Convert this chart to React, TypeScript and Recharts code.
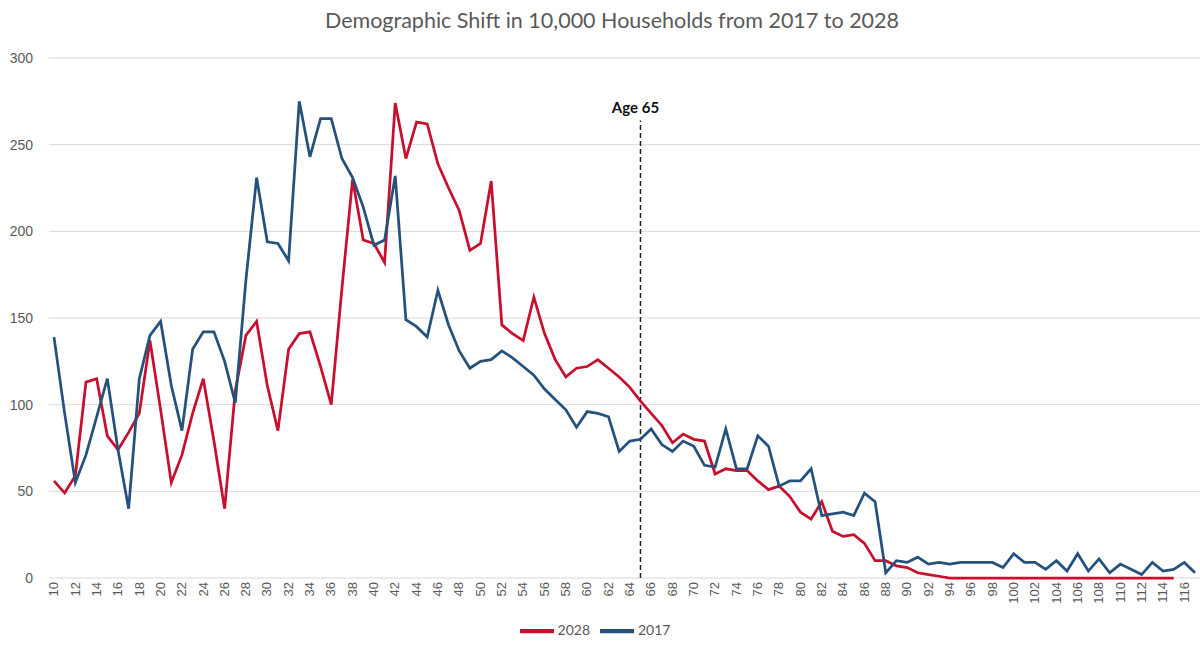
import React from 'react';
import { LineChart, Line, XAxis, YAxis, CartesianGrid, Legend, ReferenceLine } from 'recharts';

const ages: number[] = Array.from({ length: 108 }, (_, i) => 10 + i);

const values2017: number[] = [
  139, 95, 55, 71, 93, 115, 74, 40, 115, 140, 148, 111, 85, 132, 142, 142, 125, 101, 172, 231,
  194, 193, 183, 275, 243, 265, 265, 242, 231, 214, 192, 195, 232, 149, 145, 139, 166, 146, 131, 121,
  125, 126, 131, 127, 122, 117, 109, 103, 97, 87, 96, 95, 93, 73, 79, 80, 86, 77, 73, 79,
  76, 65, 64, 86, 63, 63, 82, 76, 53, 56, 56, 63, 36, 37, 38, 36, 49, 44, 3, 10,
  9, 12, 8, 9, 8, 9, 9, 9, 9, 6, 14, 9, 9, 5, 10, 4, 14, 4, 11, 3,
  8, 5, 2, 9, 4, 5, 9, 3,
];

const values2028: (number | null)[] = [
  56, 49, 59, 113, 115, 82, 74, 84, 95, 137, 97, 55, 71, 95, 115, 79, 40, 108, 140, 148,
  111, 85, 132, 141, 142, 122, 100, 167, 230, 195, 193, 182, 274, 242, 263, 262, 239, 225, 212, 189,
  193, 229, 146, 141, 137, 162, 141, 126, 116, 121, 122, 126, 121, 116, 110, 102, 95, 88, 78, 83,
  80, 79, 60, 63, 62, 62, 56, 51, 53, 47, 38, 34, 44, 27, 24, 25, 20, 10, 10, 7,
  6, 3, 2, 1, 0, 0, 0, 0, 0, 0, 0, 0, 0, 0, 0, 0, 0, 0, 0, 0,
  0, 0, 0, 0, 0, 0, null, null,
];

const yTicks: number[] = [0, 50, 100, 150, 200, 250, 300];
const seriesOrder: string[] = ['2028', '2017'];

const data = ages.map((age, i) => ({ age, v2028: values2028[i], v2017: values2017[i] }));

const FONT = 'Lato, "Open Sans", sans-serif';
const TICK_FONT = '"Liberation Sans", Arial, sans-serif';

export default function App() {
  return (
    <div style={{ position: 'absolute', left: 0, top: 0, width: 1200, height: 649, background: '#fff' }}>
      <div
        style={{
          position: 'absolute',
          top: 7,
          left: 0,
          width: 1224,
          textAlign: 'center',
          fontFamily: FONT,
          fontSize: 21.5,
          color: '#595959',
        }}
      >
        Demographic Shift in 10,000 Households from 2017 to 2028
      </div>
      <LineChart
        width={1200}
        height={649}
        data={data}
        margin={{ top: 58, right: 0, bottom: 0, left: 0 }}
        style={{ fontFamily: TICK_FONT }}
      >
        <CartesianGrid vertical={false} stroke="#d9d9d9" strokeWidth={1} />
        <XAxis
          dataKey="age"
          interval={1}
          tickLine={false}
          axisLine={false}
          padding={{ left: 5, right: 5 }}
          angle={-90}
          textAnchor="end"
          dx={-5}
          dy={-4}
          height={28}
          tick={{ fontSize: 13, fill: '#595959' }}
        />
        <YAxis
          domain={[0, 300]}
          ticks={yTicks}
          axisLine={false}
          tickLine={false}
          width={49}
          dx={-8}
          tick={{ fontSize: 14, fill: '#595959' }}
        />
        <ReferenceLine
          segment={[
            { x: 65, y: 0 },
            { x: 65, y: 264 },
          ]}
          stroke="#222"
          strokeWidth={1.5}
          strokeDasharray="5 3"
          label={{ value: 'Age 65', position: 'top', fontSize: 15, fontWeight: 'bold', fill: '#111', dx: -5, dy: -2, fontFamily: FONT }}
        />
        <Line
          type="linear"
          dataKey="v2028"
          name="2028"
          stroke="#C8102E"
          strokeWidth={2.75}
          dot={false}
          activeDot={false}
          isAnimationActive={false}
        />
        <Line
          type="linear"
          dataKey="v2017"
          name="2017"
          stroke="#24527C"
          strokeWidth={2.75}
          dot={false}
          activeDot={false}
          isAnimationActive={false}
        />
        <Legend
          verticalAlign="bottom"
          align="center"
          iconType="plainline"
          iconSize={34}
          height={35}
          itemSorter={(item: any) => seriesOrder.indexOf(String(item.value))}
          wrapperStyle={{ fontSize: 14, paddingTop: 8, fontFamily: FONT }}
          formatter={(value: string) => <span style={{ color: '#595959' }}>{value}</span>}
        />
      </LineChart>
    </div>
  );
}
